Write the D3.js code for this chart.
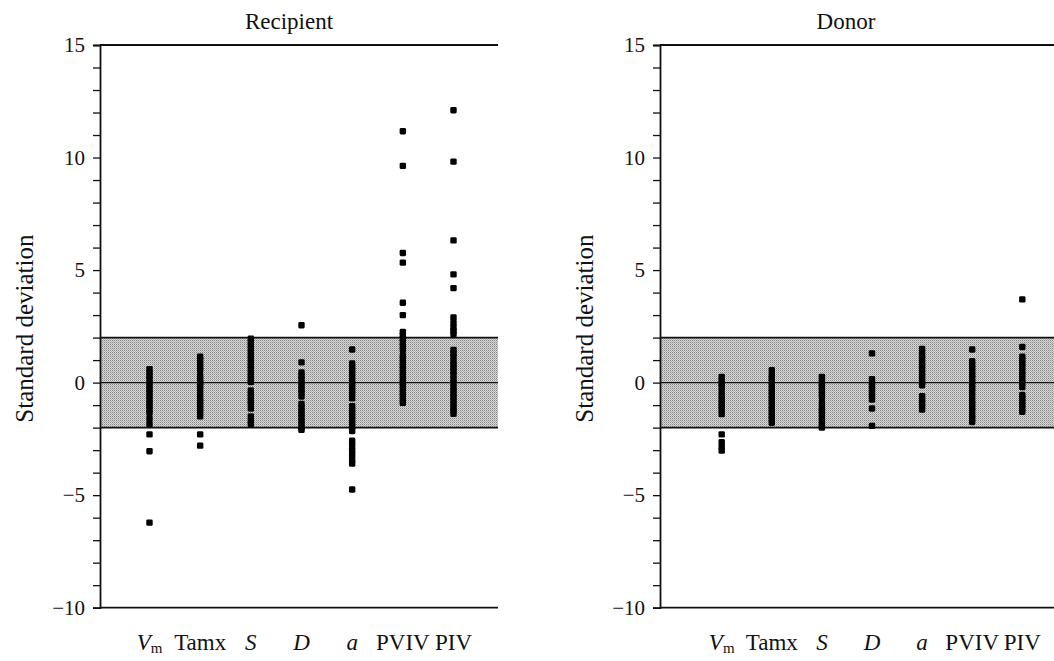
<!DOCTYPE html>
<html>
<head>
<meta charset="utf-8">
<script src="https://cdn.jsdelivr.net/npm/d3@7"></script>
<style>
  html, body { margin: 0; padding: 0; background: #fff; }
  svg { display: block; }
  text { font-family: "Liberation Serif", "Times New Roman", serif; fill: #111; }
</style>
</head>
<body>
<svg id="chart" width="1054" height="661"></svg>
<script>
// ---------- data ----------
const categories = ["Vm", "Tamx", "S", "D", "a", "PVIV", "PIV"];
const panelTitles = ["Recipient", "Donor"];
const yTickLabels = [15, 10, 5, 0, -5, -10];
const bandLimits = [-2, 2];

const recipientVm   = [0.6, 0.45, 0.3, 0.15, 0.0, -0.15, -0.3, -0.45, -0.6, -0.75, -0.9, -1.05, -1.2, -1.35, -1.6, -1.85, -2.3, -3.05, -6.22];
const recipientTamx = [1.15, 1.0, 0.85, 0.7, 0.55, 0.3, 0.15, 0.0, -0.15, -0.3, -0.5, -0.7, -0.85, -1.0, -1.15, -1.3, -1.5, -2.3, -2.8];
const recipientS    = [1.95, 1.8, 1.65, 1.5, 1.35, 1.2, 1.05, 0.9, 0.75, 0.6, 0.45, 0.3, 0.15, 0.02, -0.35, -0.5, -0.65, -0.8, -0.95, -1.15, -1.5, -1.7, -1.85];
const recipientD    = [2.55, 0.9, 0.45, 0.3, 0.15, 0.0, -0.15, -0.3, -0.45, -0.62, -0.95, -1.1, -1.25, -1.4, -1.55, -1.7, -1.85, -2.0, -2.1];
const recipientA    = [1.47, 0.85, 0.7, 0.55, 0.4, 0.25, 0.1, -0.05, -0.2, -0.35, -0.5, -0.7, -1.05, -1.2, -1.35, -1.5, -1.65, -1.8, -1.95, -2.15, -2.58, -2.78, -3.0, -3.2, -3.42, -3.6, -4.75];
const recipientPVIV = [11.17, 9.63, 5.76, 5.33, 3.55, 3.0, 2.25, 2.1, 1.95, 1.8, 1.62, 1.45, 1.2, 1.05, 0.9, 0.75, 0.6, 0.45, 0.3, 0.15, 0.0, -0.15, -0.3, -0.45, -0.6, -0.75, -0.9];
const recipientPIV  = [12.1, 9.82, 6.32, 4.81, 4.2, 2.89, 2.65, 2.45, 2.3, 2.15, 1.45, 1.3, 1.15, 0.95, 0.8, 0.65, 0.5, 0.35, 0.15, 0.0, -0.2, -0.35, -0.5, -0.65, -0.8, -0.95, -1.1, -1.25, -1.38];

const donorVm   = [0.25, 0.1, -0.05, -0.2, -0.4, -0.6, -0.75, -0.9, -1.05, -1.2, -1.4, -2.3, -2.65, -2.85, -3.02];
const donorTamx = [0.55, 0.33, 0.18, 0.03, -0.12, -0.27, -0.42, -0.57, -0.72, -0.87, -1.02, -1.17, -1.32, -1.47, -1.62, -1.78];
const donorS    = [0.25, 0.1, -0.05, -0.2, -0.35, -0.5, -0.65, -0.9, -1.1, -1.25, -1.4, -1.55, -1.7, -1.85, -2.0];
const donorD    = [1.3, 0.15, 0.0, -0.15, -0.3, -0.45, -0.6, -0.75, -1.15, -1.92];
const donorA    = [1.5, 1.35, 1.2, 1.05, 0.9, 0.75, 0.6, 0.45, 0.3, 0.15, 0.0, -0.12, -0.6, -0.75, -0.9, -1.05, -1.2];
const donorPVIV = [1.47, 0.95, 0.8, 0.65, 0.5, 0.35, 0.2, 0.05, -0.1, -0.25, -0.4, -0.6, -0.8, -0.95, -1.1, -1.25, -1.45, -1.6, -1.75];
const donorPIV  = [3.7, 1.58, 1.15, 1.0, 0.85, 0.7, 0.5, 0.35, 0.15, 0.0, -0.2, -0.55, -0.7, -0.85, -1.0, -1.15, -1.3];

const recipientSeries = [recipientVm, recipientTamx, recipientS, recipientD, recipientA, recipientPVIV, recipientPIV];
const donorSeries = [donorVm, donorTamx, donorS, donorD, donorA, donorPVIV, donorPIV];

// ---------- layout ----------
const FONT = '"Liberation Serif", "Times New Roman", serif';
const svg = d3.select("#chart");
const defs = svg.append("defs");
const pat = defs.append("pattern").attr("id", "stipple")
  .attr("width", 2).attr("height", 2).attr("patternUnits", "userSpaceOnUse");
pat.append("rect").attr("width", 2).attr("height", 2).attr("fill", "#d8d8d8");
pat.append("rect").attr("x", 0).attr("y", 0).attr("width", 1).attr("height", 1).attr("fill", "#858585");
pat.append("rect").attr("x", 1).attr("y", 1).attr("width", 1).attr("height", 1).attr("fill", "#b0b0b0");

const panels = [
  { title: panelTitles[0], series: recipientSeries, axisX: 100, right: 498, first: 149.5, last: 453.5, titleX: 289, ylabX: 33 },
  { title: panelTitles[1], series: donorSeries, axisX: 660, right: 1054, first: 721.7, last: 1022.3, titleX: 846, ylabX: 593 }
];
const yTop = 45, yBottom = 607.7;
const y = d3.scaleLinear().domain([-10, 15]).range([yBottom, yTop]);
const fmt = d3.format("");

panels.forEach(p => {
  const g = svg.append("g");
  const x = d3.scalePoint().domain(categories).range([p.first, p.last]);

  // band
  g.append("rect")
    .attr("x", p.axisX).attr("width", p.right - p.axisX)
    .attr("y", y(bandLimits[1])).attr("height", y(bandLimits[0]) - y(bandLimits[1]))
    .attr("fill", "url(#stipple)");
  // band edges + zero line
  [bandLimits[0], 0, bandLimits[1]].forEach(v => {
    g.append("line")
      .attr("x1", p.axisX).attr("x2", p.right)
      .attr("y1", y(v)).attr("y2", y(v))
      .attr("stroke", "#111").attr("stroke-width", v === 0 ? 1.4 : 1.6);
  });
  // top border
  g.append("line").attr("x1", p.axisX).attr("x2", p.right)
    .attr("y1", y(15)).attr("y2", y(15)).attr("stroke", "#111").attr("stroke-width", 1.8);
  // bottom axis line
  g.append("line").attr("x1", p.axisX).attr("x2", p.right)
    .attr("y1", y(-10)).attr("y2", y(-10)).attr("stroke", "#111").attr("stroke-width", 1.8);

  // y axis
  const yAxis = d3.axisLeft(y)
    .tickValues(d3.range(-10, 16))
    .tickSize(7).tickPadding(8)
    .tickFormat(d => yTickLabels.includes(d) ? fmt(d) : "");
  const ax = g.append("g").attr("transform", `translate(${p.axisX},0)`).call(yAxis)
    .attr("font-family", FONT).attr("font-size", 21);
  ax.select(".domain").attr("stroke", "#111").attr("stroke-width", 1.8);
  ax.selectAll(".tick line").attr("stroke", "#111").attr("stroke-width", 1.3);
  ax.selectAll(".tick text").style("font-family", FONT).style("font-size", "21px").attr("fill", "#111");

  // points
  p.series.forEach((vals, i) => {
    const cx = x(categories[i]);
    g.selectAll(null).data(vals).enter().append("rect")
      .attr("x", cx - 3.2).attr("y", d => y(d) - 3.2)
      .attr("width", 6.4).attr("height", 6.4).attr("rx", 1.4)
      .attr("fill", "#000");
  });

  // x labels
  categories.forEach(c => {
    const t = g.append("text").attr("x", x(c)).attr("y", 650)
      .attr("text-anchor", "middle").style("font-size", "23px");
    if (c === "Vm") {
      t.append("tspan").style("font-style", "italic").text("V");
      t.append("tspan").attr("dy", 3).style("font-size", "15px").text("m");
    } else if (c === "S" || c === "D" || c === "a") {
      t.append("tspan").style("font-style", "italic").text(c);
    } else {
      t.text(c);
    }
  });

  // title
  g.append("text").attr("x", p.titleX).attr("y", 29).attr("text-anchor", "middle")
    .style("font-size", "23px").text(p.title);

  // y label
  g.append("text")
    .attr("transform", `translate(${p.ylabX},${y(0) - 54}) rotate(-90)`)
    .attr("text-anchor", "middle").style("font-size", "25px")
    .text("Standard deviation");
});
</script>
</body>
</html>
